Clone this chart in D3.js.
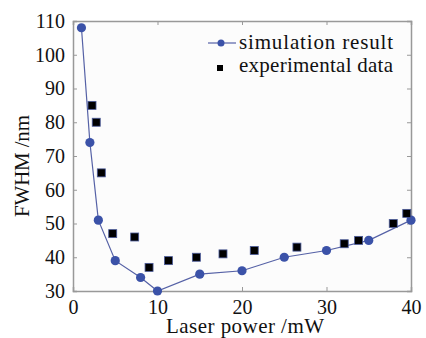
<!DOCTYPE html>
<html>
<head>
<meta charset="utf-8">
<script src="https://cdn.jsdelivr.net/npm/d3@7"></script>
<style>
  body { margin: 0; background: #fff; }
</style>
</head>
<body>
<div id="chart"></div>
<script>
const simPower = [1, 2, 3, 5, 8, 10, 15, 20, 25, 30, 35, 40];
const simFwhm = [108, 74, 51, 39, 34, 30, 35, 36, 40, 42, 45, 51];
const expPower = [2.25, 2.75, 3.35, 4.7, 7.3, 9, 11.3, 14.6, 17.75, 21.45, 26.5, 32.1, 33.8, 37.9, 39.5];
const expFwhm = [85, 80, 65, 47, 46, 37, 39, 40, 41, 42, 43, 44, 45, 50, 53];
const xTicks = [0, 10, 20, 30, 40];
const yTicks = [30, 40, 50, 60, 70, 80, 90, 100, 110];

const width = 426, height = 338;
const margin = {top: 21, right: 15, bottom: 47, left: 73};

const x = d3.scaleLinear().domain([0, 40]).range([margin.left, width - margin.right]);
const y = d3.scaleLinear().domain([30, 110]).range([height - margin.bottom, margin.top]);

const svg = d3.select('#chart')
  .append('svg')
  .attr('width', width)
  .attr('height', height)
  .style('font-family', 'serif');

svg.append('rect')
  .attr('x', x(0)).attr('y', y(110))
  .attr('width', x(40) - x(0)).attr('height', y(30) - y(110))
  .attr('fill', '#fcfcfc');

const axisColor = '#999';

// axes with inward ticks
const gx = svg.append('g')
  .attr('transform', `translate(0,${y(30)})`)
  .call(d3.axisBottom(x).tickValues(xTicks).tickSize(-4).tickPadding(9));
const gxTop = svg.append('g')
  .attr('transform', `translate(0,${y(110)})`)
  .call(d3.axisTop(x).tickValues(xTicks).tickSize(-4).tickFormat(''));
const gy = svg.append('g')
  .attr('transform', `translate(${x(0)},0)`)
  .call(d3.axisLeft(y).tickValues(yTicks).tickSize(-4).tickPadding(8));
const gyRight = svg.append('g')
  .attr('transform', `translate(${x(40)},0)`)
  .call(d3.axisRight(y).tickValues(yTicks).tickSize(-4).tickFormat(''));

[gx, gxTop, gy, gyRight].forEach(g => {
  g.attr('font-family', null).attr('font-size', null);
  g.select('.domain').attr('stroke', axisColor).attr('stroke-width', 1.5);
  g.selectAll('.tick line').attr('stroke', axisColor);
  g.selectAll('text')
    .style('font-family', 'serif')
    .style('font-size', '20px')
    .attr('fill', '#111');
});

// labels
svg.append('text')
  .attr('x', 245).attr('y', 333)
  .attr('text-anchor', 'middle')
  .style('font-family', 'serif')
  .style('font-size', '21px')
  .attr('textLength', 158)
  .attr('fill', '#111')
  .text('Laser power /mW');

svg.append('text')
  .attr('transform', 'translate(29,166) rotate(-90)')
  .attr('text-anchor', 'middle')
  .style('font-family', 'serif')
  .style('font-size', '21px')
  .attr('textLength', 102)
  .attr('fill', '#111')
  .text('FWHM /nm');

const blue = '#3b52a8';
const lineColor = '#5561a6';

const line = d3.line()
  .x((d, i) => x(simPower[i]))
  .y(d => y(d));

svg.append('path')
  .datum(simFwhm)
  .attr('d', line)
  .attr('fill', 'none')
  .attr('stroke', lineColor)
  .attr('stroke-width', 1.2);

svg.selectAll('.sim')
  .data(simFwhm)
  .enter()
  .append('circle')
  .attr('class', 'sim')
  .attr('cx', (d, i) => x(simPower[i]))
  .attr('cy', d => y(d))
  .attr('r', 4.6)
  .attr('fill', blue);

svg.selectAll('.exp')
  .data(expFwhm)
  .enter()
  .append('rect')
  .attr('class', 'exp')
  .attr('x', (d, i) => x(expPower[i]) - 4)
  .attr('y', d => y(d) - 4)
  .attr('width', 8)
  .attr('height', 8)
  .attr('fill', '#000')
  .attr('stroke', '#4a5a9a')
  .attr('stroke-width', 0.8);

// legend
const leg = svg.append('g');
leg.append('line')
  .attr('x1', 208).attr('x2', 236).attr('y1', 43).attr('y2', 43)
  .attr('stroke', lineColor).attr('stroke-width', 1.2);
leg.append('circle').attr('cx', 221).attr('cy', 43).attr('r', 3.5).attr('fill', blue);
leg.append('rect').attr('x', 217).attr('y', 65).attr('width', 6).attr('height', 6).attr('fill', '#000');
leg.append('text').attr('x', 239).attr('y', 49).attr('fill', '#111')
  .style('font-family', 'serif').style('font-size', '21px')
  .attr('textLength', 154).text('simulation result');
leg.append('text').attr('x', 239).attr('y', 72).attr('fill', '#111')
  .style('font-family', 'serif').style('font-size', '21px')
  .attr('textLength', 154).text('experimental data');
</script>
</body>
</html>
